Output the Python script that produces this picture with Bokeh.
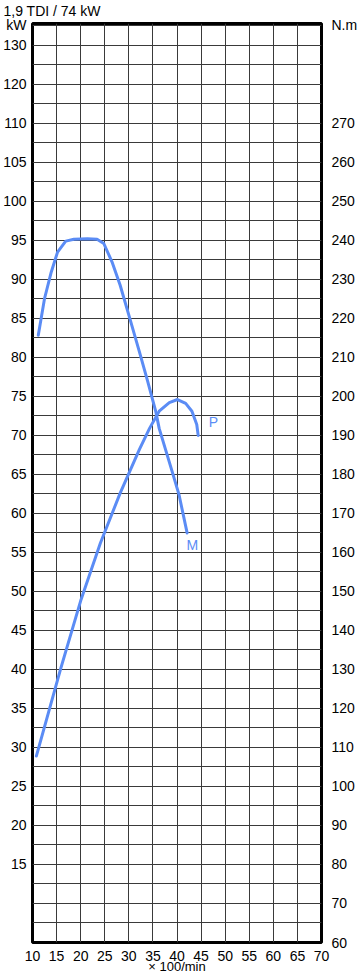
from bokeh.plotting import figure
from bokeh.models import Range1d, LinearAxis, FixedTicker, Label, Title
from bokeh.embed import file_html
from bokeh.resources import INLINE

# ---- data ----
rpm_ticks = [10, 15, 20, 25, 30, 35, 40, 45, 50, 55, 60, 65, 70]
kw_ticks = [15, 20, 25, 30, 35, 40, 45, 50, 55, 60, 65, 70, 75, 80, 85, 90, 95,
            100, 105, 110, 115, 120]
kw_tick_labels = ["15", "20", "25", "30", "35", "40", "45", "50", "55", "60", "65",
                  "70", "75", "80", "85", "90", "95", "100", "105", "110", "120", "130"]
nm_ticks = [60, 70, 80, 90, 100, 110, 120, 130, 140, 150, 160, 170, 180, 190, 200,
            210, 220, 230, 240, 250, 260, 270]

# torque curve M (x 100/min, N.m)
m_rpm = [11.2, 12.5, 13.9, 15.2, 16.9, 18.6, 21.4, 23.4, 24.8, 26.5, 28.2, 30.2,
         32.2, 33.9, 35.6, 36.3, 39.0, 40.4, 42.1]
m_nm = [215.7, 225.1, 231.9, 237.0, 239.8, 240.3, 240.4, 240.3, 239.2, 234.5, 228.5,
        220.0, 211.4, 203.9, 196.1, 191.8, 180.7, 174.9, 165.0]

# power curve P (x 100/min, kW)
p_rpm = [10.8, 15.9, 20.0, 24.1, 28.2, 32.2, 34.3, 36.3, 38.4, 40.1, 41.8, 43.1,
         44.1, 44.4]
p_kw = [28.9, 40.2, 48.8, 56.2, 62.6, 68.2, 70.9, 73.1, 74.2, 74.6, 74.1, 73.1,
        71.4, 70.0]

FONT = "Liberation Sans"
BLUE = "#5b8cf5"

KW_TOP = 122.8
NM_TOP = 295.6

p = figure(width=360, height=978, x_range=Range1d(10, 70), y_range=Range1d(5, KW_TOP),
           output_backend="svg", toolbar_location=None,
           min_border_left=31, min_border_right=35, min_border_top=21,
           min_border_bottom=36)
p.background_fill_color = "white"
p.border_fill_color = "white"
p.outline_line_color = "black"
p.outline_line_width = 3

p.extra_y_ranges = {"nm": Range1d(60, NM_TOP)}

# grid
p.xgrid.ticker = FixedTicker(ticks=rpm_ticks)
p.ygrid.ticker = FixedTicker(ticks=[5 + 2.5 * i for i in range(48)])
for g in (p.xgrid, p.ygrid):
    g.grid_line_color = "#3a3a3a"
    g.grid_line_width = 1
    g.grid_line_alpha = 1

# bottom axis
xa = p.xaxis[0]
xa.ticker = FixedTicker(ticks=rpm_ticks)
xa.axis_label = "\u00d7 100/min"
xa.axis_label_standoff = -5
xa.axis_label_text_font = FONT
xa.axis_label_text_font_size = "13px"
xa.axis_label_text_font_style = "normal"
xa.axis_label_text_color = "black"

# left axis (unit "kW" shown as the label of a tick at the frame top)
ya = p.yaxis[0]
ya.ticker = FixedTicker(ticks=kw_ticks + [KW_TOP - 0.2])
ov = {t: l for t, l in zip(kw_ticks, kw_tick_labels)}
ov[KW_TOP - 0.2] = "kW"
ya.major_label_overrides = ov

# right axis (unit "N.m" shown as the label of a tick at the frame top)
ra = LinearAxis(y_range_name="nm", ticker=FixedTicker(ticks=nm_ticks + [NM_TOP - 0.5]))
ra.major_label_overrides = {NM_TOP - 0.5: "N.m"}
p.add_layout(ra, "right")

for ax, so in ((xa, 8), (ya, 6), (ra, 10)):
    ax.axis_line_color = None
    ax.major_tick_line_color = None
    ax.minor_tick_line_color = None
    ax.major_tick_out = 0
    ax.major_tick_in = 0
    ax.major_label_standoff = so
    ax.major_label_text_font = FONT
    ax.major_label_text_font_size = "14px"
    ax.major_label_text_color = "black"

# title line
p.add_layout(Title(text="1,9 TDI / 74 kW", align="left", offset=-29,
                   vertical_align="top",
                   text_font=FONT, text_font_size="14px", text_font_style="normal",
                   text_color="black", standoff=5), "above")

# curves
p.line(m_rpm, m_nm, y_range_name="nm", line_color=BLUE, line_width=3,
       line_join="round", line_cap="round")
p.line(p_rpm, p_kw, line_color=BLUE, line_width=3, line_join="round",
       line_cap="round")

p.add_layout(Label(x=46.6, y=71.7, text="P", text_font=FONT, text_font_size="14px",
                   text_color=BLUE, text_align="left", text_baseline="middle"))
p.add_layout(Label(x=43.2, y=162, text="M", y_range_name="nm", text_font=FONT,
                   text_font_size="14px", text_color=BLUE, text_align="center",
                   text_baseline="middle"))

open("out.html", "w").write(file_html(p, INLINE))
